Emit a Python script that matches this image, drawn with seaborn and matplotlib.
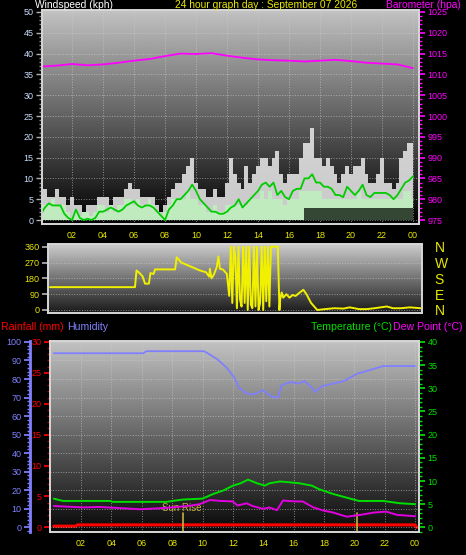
"""
plot.py
24 hour weather graph: wind / barometer, wind direction, temp / humidity / rain
"""
import numpy as np
import matplotlib
matplotlib.use("Agg")
import matplotlib.pyplot as plt
from matplotlib.ticker import MultipleLocator
import seaborn as sns

# ─── Data ─────────────────────────────────────────────────────────────────────

WIND_HOURS = np.arange(0, 24.01, 0.25)
GUST = [
    5.5, 7.5, 5.5, 5.5,   7.5, 5.5, 5.5, 3.5,   5.5, 3.5, 3.5, 2.0,
    3.5, 3.5, 3.5, 5.5,   5.5, 5.5, 3.5, 5.5,   5.5, 5.5, 7.5, 9.0,
    7.5, 7.5, 5.5, 5.5,   5.5, 5.5, 3.5, 2.0,   3.5, 5.5, 7.5, 9.0,
    9.0, 11.0, 13.0, 15.0, 9.0, 7.5, 7.5, 5.5,  5.5, 7.5, 5.5, 5.5,
    9.0, 15.0, 11.0, 9.0, 7.5, 13.0, 9.0, 11.0, 13.0, 15.0, 15.0, 13.0,
    15.0, 16.5, 11.0, 9.0, 11.0, 11.0, 11.0, 15.0, 18.5, 18.5, 22.0, 15.0,
    15.0, 13.0, 15.0, 13.0, 11.0, 9.0, 11.0, 13.0, 11.0, 13.0, 13.0, 15.0,
    11.0, 9.0, 9.0, 11.0, 15.0, 9.0, 9.0, 7.5,  9.0, 15.0, 16.5, 18.5,
    18.5,
]
WIND = [
    3.5, 3.5, 3.5, 5.0,   3.5, 3.5, 3.5, 2.0,   0.5, 2.0, 1.0, 2.0,
    2.0, 1.0, 2.0, 3.5,   3.5, 2.0, 3.5, 2.0,   3.5, 3.5, 5.0, 5.0,
    3.5, 5.0, 3.5, 3.5,   5.0, 3.5, 2.0, 1.0,   2.0, 3.5, 5.0, 5.0,
    5.0, 5.0, 7.0, 5.0,   5.0, 3.5, 3.5, 2.0,   2.0, 3.5, 2.0, 2.0,
    3.5, 3.5, 3.5, 3.5,   3.5, 3.5, 5.0, 5.0,   5.0, 7.0, 5.0, 7.0,
    5.0, 5.0, 5.0, 3.5,   5.0, 5.0, 5.0, 7.0,   7.0, 7.0, 7.0, 7.0,
    7.0, 5.0, 5.0, 5.0,   5.0, 5.0, 5.0, 5.0,   5.0, 5.0, 7.0, 5.0,
    5.0, 5.0, 5.0, 5.0,   5.0, 5.0, 5.0, 5.0,   5.0, 5.0, 7.0, 7.0,
    5.0,
]
WIND_AVG = [
    1.5, 3.0, 4.0, 3.5,   3.5, 3.5, 1.5, 0.5,   0.0, 2.5, 0.5, 0.0,
    0.3, 0.0, 0.5, 2.0,   2.0, 2.5, 3.0, 2.5,   2.0, 2.5, 3.5, 4.0,
    4.5, 3.5, 3.0, 3.5,   3.5, 3.0, 2.0, 1.0,   0.0, 2.5, 3.5, 5.0,
    5.0, 6.0, 7.0, 8.5,   7.0, 5.0, 4.0, 3.0,   2.0, 2.0, 1.5, 1.5,
    2.0, 3.0, 3.5, 5.0,   3.0, 4.0, 5.0, 6.0,   7.0, 8.5, 9.0, 8.0,
    9.0, 6.0, 7.0, 5.5,   5.0, 7.0, 7.5, 7.5,   10.0, 10.0, 11.0, 9.0,
    9.0, 8.0, 8.0, 7.5,   6.0, 6.0, 5.5, 8.0,   7.0, 6.0, 7.0, 8.5,
    6.0, 5.5, 6.5, 6.5,   6.5, 6.5, 6.0, 5.0,   6.0, 7.5, 9.0, 9.5,
    10.5,
]
LULL_HOURS = list(range(25))
LULL = [0, 0, 0, 0, 0, 0, 0, 0, 0, 0, 0, 0, 0, 0, 0, 0, 0,
        3, 3, 3, 3, 3, 3, 3, 3]

BARO_HOURS = list(range(25))
BARO = [1011.9, 1012.1, 1012.5, 1012.2, 1012.4, 1012.8, 1013.3, 1013.7,
        1014.4, 1015.0, 1014.9, 1015.1, 1014.5, 1014.0, 1013.6, 1013.4,
        1013.3, 1013.1, 1013.3, 1013.5, 1013.2, 1012.8, 1012.6, 1012.4,
        1011.5]

DIR_HOURS = [0.0, 5.5, 5.6, 5.8, 6.0, 6.15, 6.4, 6.5, 6.7, 6.8, 8.1, 8.2,
             8.5, 8.9, 9.3, 9.7, 10.1, 10.3, 10.35, 10.45, 10.6, 10.8, 10.9,
             11.0, 11.2, 11.45, 11.6, 11.7, 11.8, 11.9, 12.0, 12.1, 12.2,
             12.3, 12.4, 12.5, 12.6, 12.7, 12.8, 12.9, 13.0, 13.1, 13.2,
             13.3, 13.4, 13.5, 13.6, 13.7, 13.8, 13.9, 14.0, 14.1, 14.2,
             14.3, 14.6, 14.75, 14.85, 14.9, 15.0, 15.1, 15.3, 15.5, 15.7,
             15.9, 16.1, 16.4, 16.6, 16.9, 17.1, 17.3, 17.8, 18.4, 19.0,
             19.4, 20.0, 20.5, 21.0, 21.8, 22.2, 22.7, 23.3, 24.0]
DIR_DEG = [130, 130, 225, 210, 190, 150, 150, 210, 205, 231, 231, 300,
           270, 255, 240, 225, 215, 190, 235, 180, 200, 245, 305,
           235, 230, 205, 80, 360, 40, 360, 300, 10, 360,
           60, 20, 360, 40, 360, 0, 360, 30, 10, 360,
           20, 360, 0, 40, 360, 0, 360, 50, 360, 20,
           360, 360, 360, 0, 60, 100, 70, 90, 70, 85,
           80, 95, 115, 90, 40, 20, 0, 5, 10, 8,
           15, 5, 5, 10, 20, 10, 10, 15, 10]

HUM_HOURS = [0.2, 6.1, 6.3, 10.1, 10.4, 11.0, 11.6, 12.1, 12.4, 12.9, 13.4,
             14.0, 14.3, 14.7, 15.0, 15.2, 15.8, 16.3, 16.7, 17.1, 17.4,
             17.9, 18.6, 19.3, 20.2, 20.8, 21.9, 23.0, 24.0]
HUMIDITY = [93.9, 93.9, 95.0, 95.0, 93.6, 90.5, 86.0, 80.7, 75.4, 72.1, 71.8,
            74.0, 71.8, 70.0, 70.4, 76.6, 78.4, 77.5, 78.9, 76.3, 73.0,
            76.3, 77.5, 78.9, 82.9, 84.3, 87.0, 87.0, 87.0]

TEMP_HOURS = [0.2, 0.8, 3.9, 4.1, 7.6, 8.7, 10.0, 10.7, 11.4, 12.0, 12.5,
              13.0, 13.6, 14.1, 14.4, 15.1, 15.8, 16.4, 17.2, 17.7, 18.6,
              19.5, 20.3, 21.9, 23.0, 24.0]
TEMPERATURE = [6.2, 5.7, 5.7, 5.5, 5.5, 6.0, 6.2, 7.2, 8.0, 9.0, 9.5,
               10.3, 9.5, 9.0, 9.5, 9.9, 9.7, 9.5, 9.0, 8.2, 7.2,
               6.4, 5.7, 5.7, 5.2, 5.0]

DEW_HOURS = [0.2, 2.2, 3.2, 4.3, 5.9, 7.6, 9.0, 9.8, 10.5, 11.2, 12.0, 12.3,
             12.9, 13.3, 14.0, 14.4, 14.9, 15.3, 16.0, 16.6, 17.3, 18.0,
             18.6, 19.5, 20.4, 21.3, 22.1, 22.8, 24.0]
DEW_POINT = [4.6, 4.3, 4.4, 4.2, 3.9, 4.2, 4.6, 5.0, 5.9, 5.7, 5.6, 4.7,
             5.2, 4.6, 4.0, 4.3, 3.7, 5.8, 5.6, 5.6, 4.3, 3.6,
             3.2, 2.3, 2.7, 3.2, 3.4, 2.7, 2.4]

RAIN_HOURS = [0.2, 1.65, 1.75, 24.0, 24.1]
RAIN = [0.2, 0.2, 0.4, 0.4, 0.0]

SUN_RISE = 8.7
SUN_SET = 20.2

HOUR_TICKS = [2, 4, 6, 8, 10, 12, 14, 16, 18, 20, 22, 24]
HOUR_LABELS = ["02", "04", "06", "08", "10", "12", "14", "16", "18", "20", "22", "00"]
DIR_TICKS = [0, 90, 180, 270, 360]
COMPASS_LABELS = ["N", "E", "S", "W", "N"]

# ─── Style ────────────────────────────────────────────────────────────────────

W, H = 466, 555
YELLOW = "#e8e800"
MAGENTA = "#ff00ff"
GREEN = "#00e000"
HUM_BLUE = "#8080ff"
RED = "#ff0000"
FRAME = "#d8d8d8"
GRID = "#d0d0d0"

sns.set_theme(style="dark")
plt.rcParams["font.family"] = ["Liberation Sans", "DejaVu Sans"]
plt.rcParams["figure.facecolor"] = "black"
plt.rcParams["axes.facecolor"] = "black"


def box(left, top, right, bottom):
    """pixel box -> figure fraction rect"""
    return [left / W, 1 - bottom / H, (right - left) / W, (bottom - top) / H]


def add_gradient(ax, top, bottom):
    grad = np.linspace(top, bottom, 256).reshape(-1, 1)
    ax.imshow(grad, cmap="gray", vmin=0, vmax=1, aspect="auto",
              extent=(0, 1, 0, 1), transform=ax.transAxes, zorder=0)


def frame(ax):
    for s in ax.spines.values():
        s.set_color(FRAME)
        s.set_linewidth(1.2)


fig = plt.figure(figsize=(W / 100, H / 100), dpi=100)

# ─── Panel 1: wind speed + barometer ──────────────────────────────────────────

ax1 = fig.add_axes(box(42, 10, 419, 224))
add_gradient(ax1, 0.76, 0.0)
ax1.fill_between(WIND_HOURS, 0, GUST, step="mid", color="#e6e6e6", alpha=0.88,
                 linewidth=0, zorder=2)
ax1.fill_between(WIND_HOURS, 0, WIND, step="mid", color="#bfeebf", alpha=0.92,
                 linewidth=0, zorder=3)
ax1.fill_between(LULL_HOURS, 0, LULL, step="post", color="#1c2a1c", alpha=0.85,
                 linewidth=0, zorder=3)
sns.lineplot(x=WIND_HOURS, y=WIND_AVG, ax=ax1, color="#00cc00", linewidth=1.3,
             legend=False, zorder=4)
ax1.set_xlim(0.06, 24.39)
ax1.set_ylim(-0.96, 50.48)
ax1.set_yticks(range(0, 51, 5))
ax1.yaxis.set_minor_locator(MultipleLocator(1))
ax1.set_xticks(HOUR_TICKS)
ax1.set_xticklabels(HOUR_LABELS)
ax1.tick_params(axis="x", colors=YELLOW, labelsize=6.5, length=0, pad=5)
ax1.tick_params(axis="y", which="major", colors="#b0b0b0", labelcolor="#c8dcff",
                labelsize=6.5, length=4, width=1, pad=2, left=True)
ax1.tick_params(axis="y", which="minor", colors="#909090", length=2, left=True)
ax1.grid(True, color=GRID, linestyle=":", linewidth=0.7, alpha=0.6, zorder=1)
ax1.set_axisbelow(False)
ax1.set_xlabel("")
ax1.set_ylabel("")
frame(ax1)

ax1b = ax1.twinx()
sns.lineplot(x=BARO_HOURS, y=BARO, ax=ax1b, color=MAGENTA, linewidth=1.3,
             legend=False)
ax1b.set_ylim(975 - 0.96, 975 + 50.48)
ax1b.set_yticks(range(975, 1026, 5))
ax1b.yaxis.set_minor_locator(MultipleLocator(1))
ax1b.tick_params(axis="y", which="major", colors=MAGENTA, labelsize=6.5,
                 length=4, pad=2, right=True)
ax1b.tick_params(axis="y", which="minor", colors=MAGENTA, length=2, right=True)
ax1b.set_ylabel("")
ax1b.grid(False)
frame(ax1b)

fig.text(35 / W, 1 - 4.5 / H, "Windspeed (kph)", color="white", fontsize=7.4,
         va="center", ha="left")
fig.text(266 / W, 1 - 4.5 / H, "24 hour graph day : September 07 2026", color=YELLOW,
         fontsize=7.4, va="center", ha="center")
fig.text(461 / W, 1 - 4.5 / H, "Barometer (hpa)", color=MAGENTA, fontsize=7.4,
         va="center", ha="right")

# ─── Panel 2: wind direction ──────────────────────────────────────────────────

ax2 = fig.add_axes(box(48, 244, 422, 313))
add_gradient(ax2, 0.80, 0.10)
sns.lineplot(x=DIR_HOURS, y=DIR_DEG, ax=ax2, color="#f0f000", linewidth=1.4,
             sort=False, estimator=None, legend=False, zorder=3)
ax2.set_xlim(-0.13, 24.08)
ax2.set_ylim(-17.1, 375.4)
ax2.set_xticks([])
ax2.set_yticks(DIR_TICKS)
ax2.tick_params(axis="y", colors="#b0b0b0", labelcolor=YELLOW, labelsize=6.5,
                length=4, pad=2, left=True)
ax2.grid(True, axis="y", color=GRID, linestyle=":", linewidth=0.7, alpha=0.6)
ax2.set_xlabel("")
ax2.set_ylabel("")
frame(ax2)

ax2r = ax2.twinx()
ax2r.set_ylim(-17.1, 375.4)
ax2r.set_yticks(DIR_TICKS)
ax2r.set_yticklabels(COMPASS_LABELS)
ax2r.tick_params(axis="y", colors=YELLOW, labelsize=10, length=0, pad=9)
ax2r.grid(False)
frame(ax2r)

# ─── Panel 3: rain, humidity, temperature, dew point ──────────────────────────

ax3 = fig.add_axes(box(50, 341, 419, 532))
add_gradient(ax3, 0.76, 0.03)
sns.lineplot(x=RAIN_HOURS, y=RAIN, ax=ax3, color=RED, linewidth=2.2,
             legend=False, zorder=3)
ax3.set_xlim(-0.05, 24.26)
ax3.set_ylim(-0.75, 30.15)
ax3.set_yticks(range(0, 31, 5))
ax3.yaxis.set_minor_locator(MultipleLocator(1))
ax3.tick_params(axis="y", which="major", colors=RED, labelsize=6.5, length=4,
                pad=2, left=True)
ax3.tick_params(axis="y", which="minor", colors="#b00000", length=2, left=True)
ax3.set_xticks(HOUR_TICKS)
ax3.set_xticklabels(HOUR_LABELS)
ax3.tick_params(axis="x", colors=YELLOW, labelsize=6.5, length=0, pad=5)
ax3.grid(False)
for h in HOUR_TICKS:
    ax3.axvline(h, color=GRID, linestyle=":", linewidth=0.7, alpha=0.6, zorder=1)
ax3.axvline(SUN_RISE, ymin=0.007, ymax=0.10, color="#c8b040", linewidth=1.2, zorder=4)
ax3.axvline(SUN_SET, ymin=0.007, ymax=0.10, color="#c8b040", linewidth=1.2, zorder=4)
ax3.text(SUN_RISE - 0.1, 0.126, "Sun Rise", transform=ax3.get_xaxis_transform(),
         color="#c8b040", fontsize=7, ha="center", va="center", zorder=5)
ax3.set_xlabel("")
ax3.set_ylabel("")
frame(ax3)

ax3h = ax3.twinx()
sns.lineplot(x=HUM_HOURS, y=HUMIDITY, ax=ax3h, color=HUM_BLUE, linewidth=1.3,
             legend=False)
ax3h.set_ylim(-2.5, 100.5)
ax3h.set_yticks(range(0, 101, 10))
ax3h.yaxis.set_minor_locator(MultipleLocator(2))
ax3h.yaxis.set_ticks_position("left")
ax3h.yaxis.set_label_position("left")
ax3h.spines["left"].set_position(("outward", 14.4))
ax3h.spines["left"].set_color(HUM_BLUE)
ax3h.spines["left"].set_linewidth(2)
for side in ("right", "top", "bottom"):
    ax3h.spines[side].set_visible(False)
ax3h.tick_params(axis="y", which="major", colors=HUM_BLUE, labelsize=6.5,
                 length=4, pad=2)
ax3h.tick_params(axis="y", which="minor", colors=HUM_BLUE, length=2)
ax3h.grid(True, axis="y", color=GRID, linestyle=":", linewidth=0.7, alpha=0.6)
ax3h.set_ylabel("")

ax3t = ax3.twinx()
sns.lineplot(x=TEMP_HOURS, y=TEMPERATURE, ax=ax3t, color=GREEN, linewidth=1.4,
             legend=False)
sns.lineplot(x=DEW_HOURS, y=DEW_POINT, ax=ax3t, color="#e000e0", linewidth=1.4,
             legend=False)
ax3t.set_ylim(-1.0, 40.2)
ax3t.set_yticks(range(0, 41, 5))
ax3t.yaxis.set_minor_locator(MultipleLocator(1))
ax3t.tick_params(axis="y", which="major", colors=GREEN, labelsize=6.5,
                 length=4, pad=2, right=True)
ax3t.tick_params(axis="y", which="minor", colors=GREEN, length=2, right=True)
ax3t.grid(False)
ax3t.set_ylabel("")
frame(ax3t)

fig.text(1 / W, 1 - 327 / H, "Rainfall (mm)", color=RED, fontsize=7.6,
         va="center", ha="left")
fig.text(67 / W, 1 - 327 / H, "Humidity", color=HUM_BLUE, fontsize=7.6,
         va="center", ha="left")
fig.text(392 / W, 1 - 327 / H, "Temperature (°C)", color=GREEN, fontsize=7.6,
         va="center", ha="right")
fig.text(393 / W, 1 - 327 / H, "Dew Point (°C)", color=MAGENTA, fontsize=7.6,
         va="center", ha="left")

fig.savefig("out.png", dpi=100, facecolor="black")
